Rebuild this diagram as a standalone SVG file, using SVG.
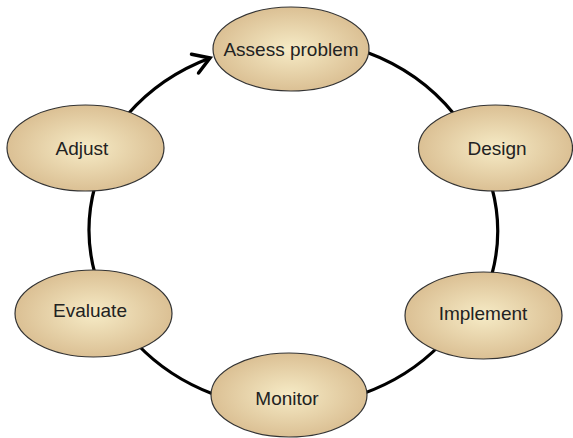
<svg xmlns="http://www.w3.org/2000/svg" width="573" height="438" viewBox="0 0 573 438">
<defs>
<radialGradient id="g" cx="50%" cy="50%" r="50%">
<stop offset="0" stop-color="#f6ebc6"/>
<stop offset="1" stop-color="#dbc094"/>
</radialGradient>
<marker id="arr" markerUnits="userSpaceOnUse" markerWidth="30" markerHeight="30" viewBox="-20 -15 30 30" refX="0" refY="0" orient="auto">
<path d="M-16,-10 L0,0 L-16,10" fill="none" stroke="#000" stroke-width="3.5" stroke-linecap="round" stroke-linejoin="miter"/>
</marker>
<style>
.n{fill:url(#g);stroke:#333;stroke-width:1.2}
.t{font-family:"Liberation Sans",Arial,sans-serif;font-size:19px;fill:#222;text-anchor:middle}
.c{fill:none;stroke:#000;stroke-width:3.2}
</style>
</defs>
<rect width="573" height="438" fill="#fff"/>
<g id="connectors">
<path class="c" d="M128,114 A205,184 0 0 1 210,58" marker-end="url(#arr)"/>
<path class="c" d="M366,52 A205,184 0 0 1 454,114"/>
<path class="c" d="M492,188 A205,184 0 0 1 492,274"/>
<path class="c" d="M441,344 A205,184 0 0 1 362,394"/>
<path class="c" d="M213,394 A205,184 0 0 1 137,344"/>
<path class="c" d="M95,274 A205,184 0 0 1 95,186"/>
</g>
<g id="assess"><ellipse class="n" cx="291" cy="49" rx="78" ry="42"/><text class="t" x="291" y="56">Assess problem</text></g>
<g id="design"><ellipse class="n" cx="495.5" cy="148" rx="77" ry="43"/><text class="t" x="497" y="155">Design</text></g>
<g id="implement"><ellipse class="n" cx="483.5" cy="315.5" rx="78.5" ry="43.5"/><text class="t" x="483" y="320">Implement</text></g>
<g id="monitor"><ellipse class="n" cx="289" cy="395" rx="78" ry="42"/><text class="t" x="287" y="405">Monitor</text></g>
<g id="evaluate"><ellipse class="n" cx="93.5" cy="313.5" rx="78.5" ry="43.5"/><text class="t" x="90" y="317">Evaluate</text></g>
<g id="adjust"><ellipse class="n" cx="85.5" cy="148" rx="78.5" ry="43"/><text class="t" x="82" y="155">Adjust</text></g>
</svg>
